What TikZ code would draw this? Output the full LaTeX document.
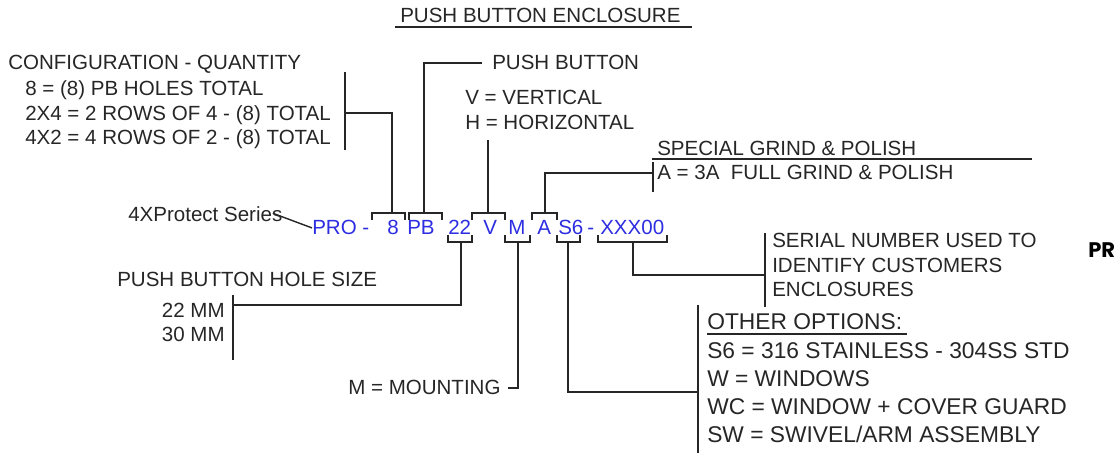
\documentclass[tikz,border=0pt]{standalone}
\usepackage{fontspec}
\setmainfont{Liberation Sans}
\newfontfamily\prfont{Poppins}
\usetikzlibrary{positioning}
\definecolor{pbInk}{RGB}{38,38,38}
\definecolor{pbBlue}{RGB}{45,45,225}

\begin{document}
\begin{tikzpicture}[x=0.025cm, y=-0.025cm,
     txt/.style={anchor=base west, inner sep=0pt, text=pbInk, align=left,
                 font=\fontsize{14.6}{17.7}\selectfont},
     big/.style={txt, font=\fontsize{16.2}{20.1}\selectfont},
     cod/.style={anchor=base west, inner sep=0pt, text=pbBlue,
                 font=\fontsize{14.6}{17.7}\selectfont},
     ln/.style={draw=pbInk, line width=1.4pt},
     sub/.style={draw=pbInk, line width=1pt}]
    \useasboundingbox (0,0) rectangle (1120,464);
    \node[txt] (titulo) at (400,23) {PUSH BUTTON ENCLOSURE};
    \draw[sub] (395,27) -- (692,27);

    \node[txt] (cfgT) at (8,70) {CONFIGURATION - QUANTITY};
    \node[txt] (cfg) at (25,145) {8 = (8) PB HOLES TOTAL\\ 2X4 = 2 ROWS OF 4 - (8) TOTAL\\ 4X2 = 4 ROWS OF 2 - (8) TOTAL};
    \node[txt] (pbT) at (492,70) {PUSH BUTTON};
    \node[txt, font=\fontsize{14.6}{18.4}\selectfont] (pbO) at (465,130) {V = VERTICAL\\ H = HORIZONTAL};
    \node[txt] (spT) at (657,156) {SPECIAL GRIND \& POLISH};
    \draw[sub] (652,159) -- (1032,159);
    \node[txt] (spO) at (657,180) {A = 3A\ \ FULL GRIND \& POLISH};
    \node[txt] (serie) at (128,222) {4XProtect Series};
    \node[txt] (holeT) at (117,287) {PUSH BUTTON HOLE SIZE};
    \node[txt, anchor=base east, align=right] (holeO) at (225,342) {22 MM\\ 30 MM};
    \node[txt] (mnt) at (348,395) {M = MOUNTING};
    \node[txt] (sn) at (772,297) {SERIAL NUMBER USED TO\\ IDENTIFY CUSTOMERS\\ ENCLOSURES};
    \node[anchor=base west, inner sep=0pt, font=\prfont\bfseries\fontsize{15}{18}\selectfont] (pr) at (1088,258) {PR};
    \node[big] (opT) at (707,330) {OTHER OPTIONS:};
    \draw[sub] (707,334) -- (907,334);
    \node[big] (op) at (707,443) {S6 = 316 STAINLESS - 304SS STD\\ W = WINDOWS\\ WC = WINDOW + COVER GUARD\\ SW = SWIVEL/ARM ASSEMBLY};

    \node[cod] (pro) at (312,235) {PRO -};
    \node[cod] (q8) at (387,235) {8};
    \node[cod] (pb) at (407,235) {PB};
    \node[cod] (hs) at (448,235) {22};
    \node[cod] (v) at (483,235) {V};
    \node[cod] (m) at (508,235) {M};
    \node[cod] (a) at (537,235) {A};
    \node[cod] (s6) at (558,235) {S6};
    \node[cod] (gu) at (587,235) {-};
    \node[cod] (xx) at (600,235) {XXX00};

    \draw[ln] (372,220) -- (372,213) -- (405,213) -- (405,220);
    \draw[ln] (409,220) -- (409,213) -- (442,213) -- (442,220);
    \draw[ln] (472,220) -- (472,213) -- (505,213) -- (505,220);
    \draw[ln] (532,220) -- (532,213) -- (557,213) -- (557,220);
    \draw[ln] (448,235) -- (448,242) -- (472,242) -- (472,235);
    \draw[ln] (505,235) -- (505,242) -- (530,242) -- (530,235);
    \draw[ln] (557,235) -- (557,242) -- (580,242) -- (580,235);
    \draw[ln] (598,235) -- (598,242) -- (667,242) -- (667,235);
    \coordinate (b8) at (392,213);
    \coordinate (bPB) at (424,213);
    \coordinate (bV) at (488,213);
    \coordinate (bA) at (545,213);
    \coordinate (b22) at (461,242);
    \coordinate (bM) at (518,242);
    \coordinate (bS6) at (568,242);
    \coordinate (bSn) at (633,242);
    \coordinate (tCfg) at (345,113);
    \coordinate (tV) at (488,140);
    \coordinate (tSp) at (653,173);
    \coordinate (tHole) at (233,305);
    \coordinate (tM) at (508,388);
    \coordinate (tOp) at (698,392);
    \coordinate (tSn) at (765,275);

    \draw[ln] (345,72) -- (345,150);
    \draw[ln] (653,162) -- (653,192);
    \draw[ln] (233,295) -- (233,360);
    \draw[ln] (698,305) -- (698,453);
    \draw[ln] (765,233) -- (765,307);

    \draw[ln] (b8) |- (tCfg);
    \draw[ln] (bPB) |- ([xshift=-7pt]pbT.west);
    \draw[ln] (bV) -- (tV);
    \draw[ln] (bA) |- (tSp);
    \draw[ln] (b22) |- (tHole);
    \draw[ln] (bM) |- (tM);
    \draw[ln] (bS6) |- (tOp);
    \draw[ln] (bSn) |- (tSn);
    \draw[sub] ([xshift=-7pt,yshift=1pt]serie.east) -- (pro.west);
  \end{tikzpicture}
\end{document}
